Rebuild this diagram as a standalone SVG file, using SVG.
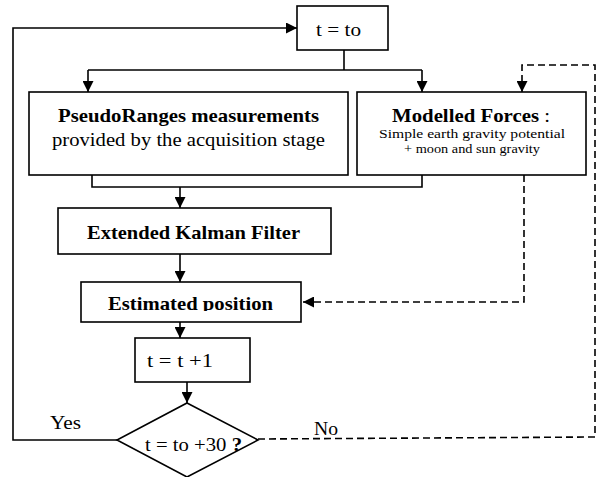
<svg xmlns="http://www.w3.org/2000/svg" width="600" height="477" viewBox="0 0 600 477">
<style>
.box{fill:#fff;stroke:#000;stroke-width:1.6}
.ln{fill:none;stroke:#000;stroke-width:1.6}
.dash{fill:none;stroke:#000;stroke-width:1.6;stroke-dasharray:7 4}
text{font-family:"Liberation Serif","Times New Roman",serif;fill:#000}
.b{font-weight:bold}
</style>
<defs>
<marker id="ah" viewBox="0 0 10 10" refX="10" refY="5" markerWidth="11" markerHeight="11" markerUnits="userSpaceOnUse" orient="auto">
<path d="M0,0 L10,5 L0,10 Z" fill="#000"/>
</marker>
<clipPath id="clipEst"><rect x="81" y="282" width="220" height="29"/></clipPath>
</defs>
<rect width="600" height="477" fill="#fff"/>
<g id="connectors">
<path class="ln" d="M344,50 V70"/>
<path class="ln" d="M88,70 H422"/>
<path class="ln" d="M88,70 V92" marker-end="url(#ah)"/>
<path class="ln" d="M422,70 V92" marker-end="url(#ah)"/>
<path class="ln" d="M92,175 V187 H422 V175"/>
<path class="ln" d="M180,187 V208" marker-end="url(#ah)"/>
<path class="ln" d="M180,254 V282" marker-end="url(#ah)"/>
<path class="ln" d="M180,322 V338" marker-end="url(#ah)"/>
<path class="ln" d="M187,382 V403" marker-end="url(#ah)"/>
<path class="ln" d="M117,440 H13 V28 H297" marker-end="url(#ah)"/>
<path class="dash" d="M524,175 V302 H303" marker-end="url(#ah)"/>
<path class="dash" d="M258,439 L595,437 V65 H522 V92" marker-end="url(#ah)"/>
</g>
<g id="node-start">
<rect class="box" x="297" y="6" width="91" height="44"/>
<text x="316" y="36" font-size="18" textLength="45" lengthAdjust="spacingAndGlyphs">t = to</text>
</g>
<g id="node-pseudo">
<rect class="box" x="29" y="92" width="319" height="83"/>
<text x="58" y="122" font-size="19" class="b" textLength="261" lengthAdjust="spacingAndGlyphs">PseudoRanges measurements</text>
<text x="52" y="146" font-size="19" textLength="273" lengthAdjust="spacingAndGlyphs">provided by the acquisition stage</text>
</g>
<g id="node-forces">
<rect class="box" x="357" y="92" width="229" height="83"/>
<text x="392" y="122" font-size="19" textLength="158" lengthAdjust="spacingAndGlyphs"><tspan class="b">Modelled Forces</tspan> :</text>
<text x="379" y="138" font-size="13" textLength="186" lengthAdjust="spacingAndGlyphs">Simple earth gravity potential</text>
<text x="404" y="153" font-size="13" textLength="136" lengthAdjust="spacingAndGlyphs">+ moon and sun gravity</text>
</g>
<g id="node-ekf">
<rect class="box" x="58" y="208" width="273" height="46"/>
<text x="87" y="239" font-size="19" class="b" textLength="213" lengthAdjust="spacingAndGlyphs">Extended Kalman Filter</text>
</g>
<g id="node-est">
<rect class="box" x="81" y="282" width="220" height="40"/>
<text x="108" y="310" font-size="19" class="b" textLength="165" lengthAdjust="spacingAndGlyphs" clip-path="url(#clipEst)">Estimated position</text>
</g>
<g id="node-incr">
<rect class="box" x="135" y="338" width="115" height="44"/>
<text x="147" y="367" font-size="18" textLength="66" lengthAdjust="spacingAndGlyphs">t = t +1</text>
</g>
<g id="node-decision">
<path class="box" d="M187,403 L258,440 L187,477 L117,440 Z"/>
<text x="145" y="451" font-size="19" textLength="97" lengthAdjust="spacingAndGlyphs">t = to +30 <tspan class="b">?</tspan></text>
</g>
<g id="labels">
<text x="50" y="429" font-size="18" textLength="31" lengthAdjust="spacingAndGlyphs">Yes</text>
<text x="314" y="435" font-size="18" textLength="24" lengthAdjust="spacingAndGlyphs">No</text>
</g>
</svg>
